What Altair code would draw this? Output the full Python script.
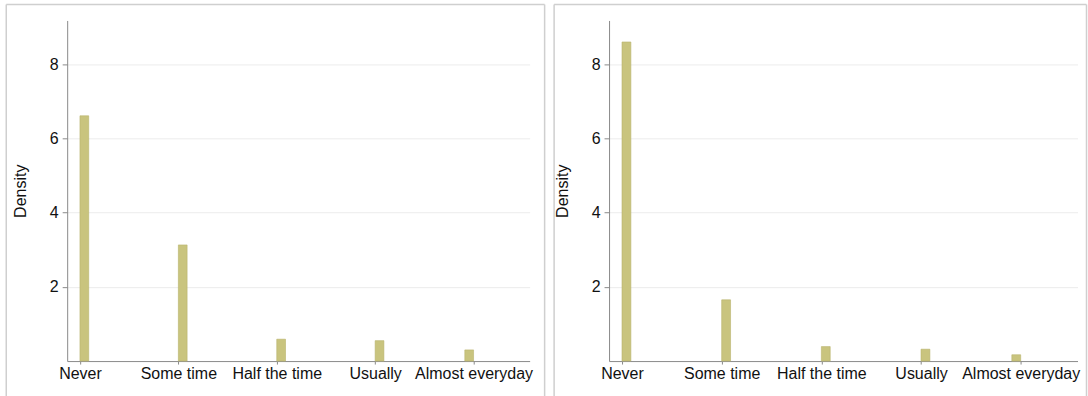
import altair as alt
import pandas as pd

# Response categories (coded 1..5) and the density of each in the two samples
categories = ["Never", "Some time", "Half the time", "Usually", "Almost everyday"]
codes = [1, 2, 3, 4, 5]
density_left = [6.61, 3.13, 0.59, 0.55, 0.30]
density_right = [8.60, 1.65, 0.39, 0.32, 0.17]
y_ticks = [2, 4, 6, 8]

BIN_WIDTH = 4 / 45          # histogram bin width over the 1..5 range
X_DOMAIN = [0.87, 5.57]
Y_DOMAIN = [0, 9.18]

BAR_FILL = "#c9c47e"
BAR_EDGE = "#b9b46c"
AXIS_GREY = "#8a8a8a"
GRID_GREY = "#ececec"
FRAME_GREY = "#cfcfcf"
FONT = "Liberation Sans"

PLOT_H = 341


def panel(values, plot_w, frame_left, frame_right):
    df = pd.DataFrame({"code": codes, "label": categories, "density": values})
    # each bar occupies one bin starting at its code; the top bin ends at the max code
    df["x0"] = [min(c, codes[-1] - BIN_WIDTH) for c in codes]
    df["x1"] = df["x0"] + BIN_WIDTH

    label_expr = "[" + ",".join("'" + c + "'" for c in categories) + "][datum.value - 1]"

    bars = alt.Chart(df).mark_rect(
        fill=BAR_FILL, stroke=BAR_EDGE, strokeWidth=0.6
    ).encode(
        x=alt.X(
            "x0:Q",
            scale=alt.Scale(domain=X_DOMAIN, nice=False, zero=False),
            axis=alt.Axis(
                values=codes, labelExpr=label_expr, title=None, grid=False,
                tickSize=3, labelPadding=1, labelOverlap=False, labelFlush=False,
                labelBaseline="top",
            ),
        ),
        x2="x1:Q",
        y=alt.Y(
            "density:Q",
            scale=alt.Scale(domain=Y_DOMAIN, nice=False),
            axis=alt.Axis(
                values=y_ticks, title="Density", grid=True, gridColor=GRID_GREY,
                tickSize=5, labelPadding=4, titlePadding=21, labelAngle=0,
            ),
        ),
        y2=alt.datum(0),
    )

    frame_src = alt.Chart(pd.DataFrame({"k": [0]}))
    top = -16
    bottom = PLOT_H + 35
    frame = alt.layer(
        frame_src.mark_rule(color=FRAME_GREY, strokeWidth=1.5).encode(
            x=alt.value(frame_left), x2=alt.value(frame_right), y=alt.value(top)
        ),
        frame_src.mark_rule(color=FRAME_GREY, strokeWidth=1.5).encode(
            x=alt.value(frame_left), y=alt.value(top), y2=alt.value(bottom)
        ),
        frame_src.mark_rule(color=FRAME_GREY, strokeWidth=1.5).encode(
            x=alt.value(frame_right), y=alt.value(top), y2=alt.value(bottom)
        ),
    )

    return alt.layer(frame, bars).properties(width=plot_w, height=PLOT_H)


left = panel(density_left, 463, -61, 478)
right = panel(density_right, 469, -55, 478)

chart = alt.hconcat(left, right, spacing=7.5).properties(
    padding={"left": 5.25, "top": 3.25, "right": 0, "bottom": 0},
    background="white",
).configure_view(
    strokeWidth=0
).configure_axis(
    domainColor=AXIS_GREY,
    tickColor=AXIS_GREY,
    labelFont=FONT,
    labelFontSize=16,
    labelColor="#111111",
    titleFont=FONT,
    titleFontSize=16,
    titleFontWeight="normal",
    titleColor="#111111",
)

chart.save("out.html", embed_options={"renderer": "svg", "actions": False})
